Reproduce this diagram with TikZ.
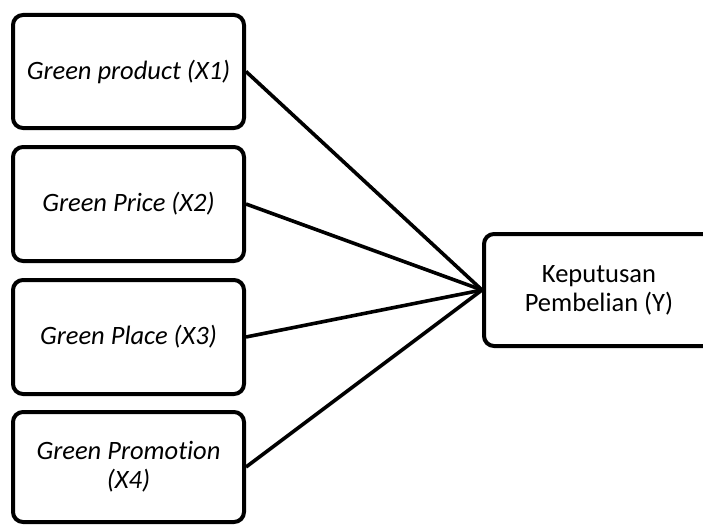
\documentclass[tikz,border=0pt]{standalone}
\usepackage{fontspec}
\setmainfont{Carlito}[Ligatures=NoCommon]
\begin{document}
\begin{tikzpicture}[x=1pt,y=-1pt,
  boxstyle/.style={draw=black, line width=4pt, rounded corners=10pt, fill=white,
    minimum width=231pt, align=center, inner sep=4pt,
    font=\fontsize{26.5}{29}\selectfont},
  conn/.style={draw=black, line width=3.6pt}]
\useasboundingbox (0,0) rectangle (703,524);
\clip (0,0) rectangle (703,524);
\fill[white] (0,0) rectangle (703,524);
\node[boxstyle, minimum height=113pt] (x1) at (128.5,71.5) {\itshape Green product (X1)};
\node[boxstyle, minimum height=114pt] (x2) at (128.5,204) {\itshape Green Price (X2)};
\node[boxstyle, minimum height=114pt] (x3) at (128.5,337) {\itshape Green Place (X3)};
\node[boxstyle, minimum height=110pt] (x4) at (128.5,467) {\itshape Green Promotion\\\itshape (X4)};
\node[boxstyle, minimum width=230pt, minimum height=112pt] (y) at (599,290) {Keputusan\\Pembelian (Y)};
\draw[conn] (x1.east) -- (y.west);
\draw[conn] (x2.east) -- (y.west);
\draw[conn] (x3.east) -- (y.west);
\draw[conn] (x4.east) -- (y.west);
\end{tikzpicture}
\end{document}
